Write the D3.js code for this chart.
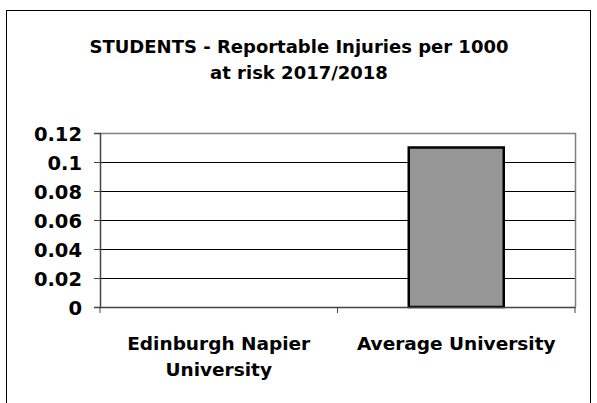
<!DOCTYPE html>
<html>
<head>
<meta charset="utf-8">
<script src="https://cdn.jsdelivr.net/npm/d3@7"></script>
<style>
  body { margin: 0; background: #fff; }
  text { font-family: Tahoma, "DejaVu Sans", Verdana, sans-serif; font-weight: bold; fill: #000; }
</style>
</head>
<body>
<div id="chart"></div>
<script>
// chart data
const categories = ['Edinburgh Napier University', 'Average University'];
const categoryLines = [['Edinburgh Napier', 'University'], ['Average University']];
const values = [0, 0.11];
const yTicks = [0, 0.02, 0.04, 0.06, 0.08, 0.1, 0.12];
const titleLines = ['STUDENTS - Reportable Injuries per 1000', 'at risk 2017/2018'];

const width = 597, height = 403;
const plot = { left: 100, right: 575, top: 133, bottom: 307 };

const svg = d3.select('#chart').append('svg')
    .attr('width', width)
    .attr('height', height);

svg.append('rect').attr('width', width).attr('height', height).attr('fill', '#fff');

// outer chart border
svg.append('rect')
    .attr('x', 6.5).attr('y', 10.5)
    .attr('width', 584).attr('height', 400)
    .attr('fill', 'none')
    .attr('stroke', '#000')
    .attr('stroke-width', 1);

// title
svg.append('text')
    .attr('text-anchor', 'middle')
    .style('font-size', '18px')
    .selectAll('tspan')
    .data(titleLines)
    .join('tspan')
    .attr('x', 299)
    .attr('y', (d, i) => 53 + i * 26)
    .text(d => d);

const x = d3.scaleBand()
    .domain(categories)
    .range([plot.left, plot.right])
    .paddingInner(0)
    .paddingOuter(0);

const y = d3.scaleLinear()
    .domain([0, 0.12])
    .range([plot.bottom, plot.top]);

// gridlines
svg.append('g')
    .selectAll('line')
    .data(yTicks.filter(d => d > 0 && d < 0.12))
    .join('line')
    .attr('x1', plot.left).attr('x2', plot.right)
    .attr('y1', d => Math.round(y(d)) + 0.5)
    .attr('y2', d => Math.round(y(d)) + 0.5)
    .attr('stroke', '#000')
    .attr('stroke-width', 1);

// plot area border (top and right)
svg.append('path')
    .attr('d', `M${plot.left},${plot.top + 0.5}H${plot.right + 0.5}V${plot.bottom}`)
    .attr('fill', 'none')
    .attr('stroke', '#808080')
    .attr('stroke-width', 1.5);

// bars
svg.append('g')
    .selectAll('rect')
    .data(values)
    .join('rect')
    .attr('x', (d, i) => x(categories[i]) + x.bandwidth() * 0.3)
    .attr('y', d => y(d))
    .attr('width', x.bandwidth() * 0.4)
    .attr('height', d => y(0) - y(d))
    .attr('fill', '#969696')
    .attr('stroke', '#000')
    .attr('stroke-width', d => d > 0 ? 2.5 : 0);

// y axis
const yAxis = svg.append('g')
    .attr('transform', `translate(${plot.left},0)`)
    .call(d3.axisLeft(y).tickValues(yTicks).tickFormat(d => String(+d.toFixed(2))).tickSize(6).tickPadding(12));
yAxis.select('.domain').attr('stroke', '#444').attr('stroke-width', 1.5);
yAxis.selectAll('.tick line').attr('stroke', '#444');
yAxis.selectAll('text').style('font-size', '19.5px').attr('dy', '0.36em');

// x axis
const xAxis = svg.append('g')
    .attr('transform', `translate(0,${plot.bottom})`)
    .call(d3.axisBottom(x).tickSize(0).tickFormat(''));
xAxis.select('.domain').attr('stroke', '#444').attr('stroke-width', 1.5);

// category dividers (ticks between bands)
svg.append('g')
    .selectAll('line')
    .data([plot.left, ...categories.map(c => x(c) + x.bandwidth())])
    .join('line')
    .attr('x1', d => d).attr('x2', d => d)
    .attr('y1', plot.bottom).attr('y2', plot.bottom + 6)
    .attr('stroke', '#444');

// category labels
svg.append('g')
    .selectAll('text')
    .data(categories)
    .join('text')
    .attr('text-anchor', 'middle')
    .style('font-size', '18.5px')
    .each(function (d, i) {
        d3.select(this).selectAll('tspan')
            .data(categoryLines[i])
            .join('tspan')
            .attr('x', x(d) + x.bandwidth() / 2)
            .attr('y', (t, j) => 350 + j * 26)
            .text(t => t);
    });
</script>
</body>
</html>
